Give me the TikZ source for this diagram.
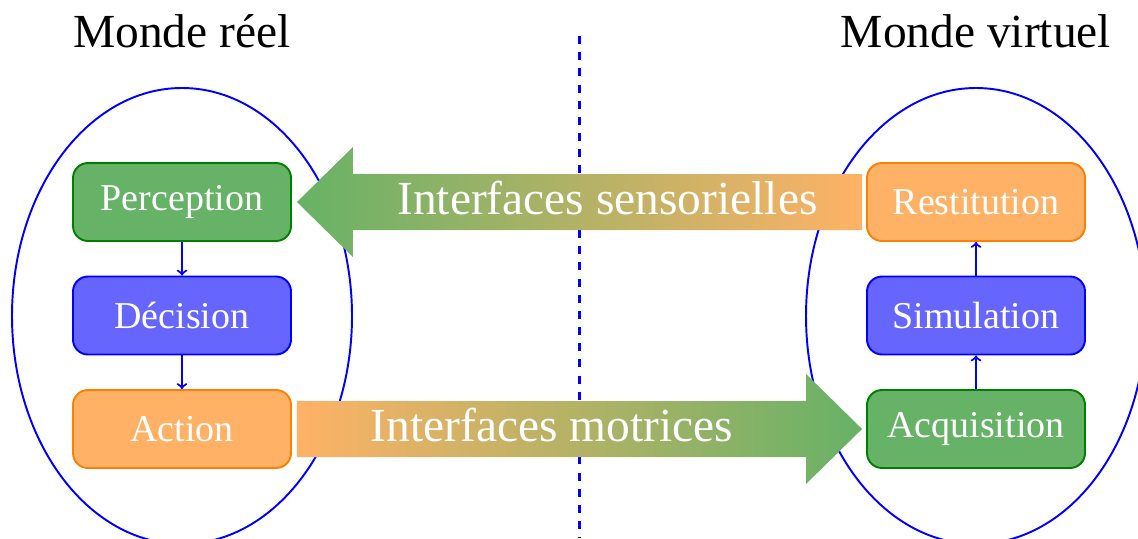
\documentclass[tikz,border=0pt]{standalone}
\usepackage{fontspec}
\setmainfont{Liberation Serif}
\usepackage{tikz}
\usetikzlibrary{arrows,calc}

\colorlet{vertclair}{green!50!black!60}
\colorlet{orangeclair}{orange!60}
\tikzset{
  boite/.style={rounded corners=0.3cm, minimum width=4.36cm, minimum height=1.56cm,
    line width=1.1pt, text=white, font=\fontsize{21.6}{24}\selectfont},
  boitevert/.style={boite, draw=green!50!black, fill=vertclair},
  boitebleu/.style={boite, draw=blue, fill=blue!60},
  boiteorange/.style={boite, draw=orange, fill=orangeclair},
  titre/.style={anchor=base, font=\fontsize{27}{30}\selectfont},
  fleche/.style={->, blue, line width=1.2pt},
  grosfleche/.style={text=white, font=\fontsize{27}{30}\selectfont}
}

\begin{document}
\begin{tikzpicture}
  \useasboundingbox (0,0) rectangle (22.76,10.76);
  \draw[blue, line width=1.1pt] (3.64,4.44) ellipse (3.4 and 4.56);
  \draw[blue, line width=1.1pt] (19.52,4.44) ellipse (3.4 and 4.56);
  \draw[blue, dashed, line width=1.7pt, dash pattern=on 4.6pt off 4.6pt] (11.58,10.04) -- (11.58,0);

  \node[titre] (reel) at (3.64,9.8) {Monde réel};
  \node[titre] (virtuel) at (19.52,9.8) {Monde virtuel};

  \node[boitevert] (perc) at (3.64,6.72) {Perception};
  \node[boitebleu] (dec) at (3.64,4.45) {Décision};
  \node[boiteorange] (act) at (3.64,2.18) {Action};
  \node[boiteorange] (rest) at (19.52,6.72) {Restitution};
  \node[boitebleu] (simu) at (19.52,4.45) {Simulation};
  \node[boitevert] (acq) at (19.52,2.18) {Acquisition};

  \shade[left color=vertclair, right color=orangeclair]
    ($(perc.east)+(0.1,0)$) -- ++(1.12,1.1) -- ++(0,-0.54) -- ($(rest.west)+(-0.08,0.56)$)
    -- ++(0,-1.12) -- ($(perc.east)+(1.22,-0.56)$) -- ++(0,-0.54) -- cycle;
  \shade[left color=orangeclair, right color=vertclair]
    ($(act.east)+(0.1,0.56)$) -- ($(acq.west)+(-1.2,0.56)$) -- ++(0,0.54) -- ($(acq.west)+(-0.08,0)$)
    -- ++(-1.12,-1.1) -- ++(0,0.54) -- ($(act.east)+(0.1,-0.56)$) -- cycle;
  \node[grosfleche] (sens) at ($(perc.east)!0.5!(rest.west)+(0.57,0.08)$) {Interfaces sensorielles};
  \node[grosfleche] (mot) at ($(act.east)!0.5!(acq.west)+(-0.54,0.08)$) {Interfaces motrices};

  \draw[fleche] (perc) -- (dec);
  \draw[fleche] (dec) -- (act);
  \draw[fleche] (acq) -- (simu);
  \draw[fleche] (simu) -- (rest);
\end{tikzpicture}
\end{document}
